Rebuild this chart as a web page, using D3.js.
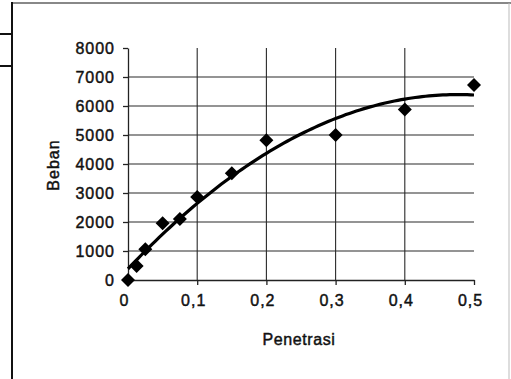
<!DOCTYPE html>
<html>
<head>
<meta charset="utf-8">
<script src="https://cdn.jsdelivr.net/npm/d3@7"></script>
<style>
  body { margin: 0; background: #fff; }
  svg { display: block; font-family: "Liberation Sans", Arial, sans-serif; }
  text { stroke: #111; stroke-width: 0.45px; }
  .axis text { font-size: 16px; fill: #111; letter-spacing: 1px; }
  .axis path, .axis line { stroke: #222; stroke-width: 1.3px; }
  .grid line { stroke: #2a2a2a; stroke-width: 1.1px; }
</style>
</head>
<body>
<svg id="chart" width="511" height="379"></svg>
<script>
var width = 511,
    height = 379;

var margin = {top: 48, right: 37, bottom: 99, left: 128};

// data
var penetrasi = [0, 0.0125, 0.025, 0.05, 0.075, 0.1, 0.15, 0.2, 0.3, 0.4, 0.5];
var beban = [0, 480, 1060, 1960, 2100, 2860, 3680, 4820, 5000, 5880, 6720];
var xTicks = [0, 0.1, 0.2, 0.3, 0.4, 0.5];
var yTicks = [0, 1000, 2000, 3000, 4000, 5000, 6000, 7000, 8000];

var svg = d3.select("#chart");

// scan frame
svg.append("line").attr("x1", 12).attr("x2", 511).attr("y1", 3).attr("y2", 3)
  .style("stroke", "#888").style("stroke-width", 2);
svg.append("line").attr("x1", 12).attr("x2", 12).attr("y1", 2).attr("y2", 379)
  .style("stroke", "#111").style("stroke-width", 2);
[34, 66].forEach(function(y) {
  svg.append("line").attr("x1", 0).attr("x2", 12).attr("y1", y).attr("y2", y)
    .style("stroke", "#111").style("stroke-width", 2);
});
svg.append("line").attr("x1", 509).attr("x2", 509).attr("y1", 3).attr("y2", 379)
  .style("stroke", "#bbb").style("stroke-width", 1);

var x = d3.scaleLinear().domain([0, 0.5]).range([margin.left, width - margin.right]);
var y = d3.scaleLinear().domain([0, 8000]).range([height - margin.bottom, margin.top]);

// gridlines
var grid = svg.append("g").attr("class", "grid");
grid.selectAll(".h")
  .data(yTicks.filter(function(d) { return d > 0 && d < 8000; }))
  .enter().append("line")
  .attr("x1", x(0)).attr("x2", x(0.5))
  .attr("y1", function(d) { return y(d); })
  .attr("y2", function(d) { return y(d); });
grid.selectAll(".v")
  .data(xTicks.filter(function(d) { return d > 0 && d < 0.5; }))
  .enter().append("line")
  .attr("y1", y(0)).attr("y2", y(8000))
  .attr("x1", function(d) { return x(d); })
  .attr("x2", function(d) { return x(d); });

// axes
svg.append("g").attr("class", "axis")
  .attr("transform", "translate(" + x(0) + ",0)")
  .call(d3.axisLeft(y).tickValues(yTicks).tickSize(5).tickSizeOuter(0).tickPadding(8)
    .tickFormat(function(d) { return d; }));

svg.append("g").attr("class", "axis")
  .attr("transform", "translate(0," + y(0) + ")")
  .call(d3.axisBottom(x).tickValues(xTicks).tickSize(5).tickSizeOuter(0).tickPadding(10)
    .tickFormat(function(d) { return String(d).replace(".", ","); }))
  .selectAll("text").attr("dx", -4);

svg.selectAll(".domain").style("stroke", "#222");

// polynomial (order 2) trendline, least squares fit of the points
function fitQuad(xs, ys) {
  var s = [0, 0, 0, 0, 0], t = [0, 0, 0];
  xs.forEach(function(xv, i) {
    for (var k = 0; k < 5; k++) s[k] += Math.pow(xv, k);
    for (var k = 0; k < 3; k++) t[k] += ys[i] * Math.pow(xv, k);
  });
  var m = [[s[0], s[1], s[2], t[0]], [s[1], s[2], s[3], t[1]], [s[2], s[3], s[4], t[2]]];
  for (var i = 0; i < 3; i++) {
    for (var j = i + 1; j < 3; j++) {
      var f = m[j][i] / m[i][i];
      for (var k = i; k < 4; k++) m[j][k] -= f * m[i][k];
    }
  }
  var c = [0, 0, 0];
  for (var i = 2; i >= 0; i--) {
    var v = m[i][3];
    for (var k = i + 1; k < 3; k++) v -= m[i][k] * c[k];
    c[i] = v / m[i][i];
  }
  return c;
}
var coef = fitQuad(penetrasi, beban);
var trend = d3.range(0, 0.5001, 0.005).map(function(d) {
  return [d, coef[0] + coef[1] * d + coef[2] * d * d];
});

svg.append("path")
  .datum(trend)
  .attr("fill", "none")
  .attr("stroke", "#000")
  .attr("stroke-width", 3.2)
  .attr("d", d3.line()
    .x(function(d) { return x(d[0]); })
    .y(function(d) { return y(d[1]); }));

// diamond markers
svg.selectAll(".pt")
  .data(penetrasi)
  .enter().append("path")
  .attr("class", "pt")
  .attr("transform", function(d, i) { return "translate(" + x(d) + "," + y(beban[i]) + ")"; })
  .attr("d", "M0,-7L7,0L0,7L-7,0Z")
  .attr("fill", "#000");

// axis titles
svg.append("text")
  .attr("x", (x(0) + x(0.5)) / 2 - 2)
  .attr("y", 345)
  .attr("text-anchor", "middle")
  .style("font-size", "16px")
  .style("letter-spacing", "0.6px")
  .style("fill", "#111")
  .text("Penetrasi");

svg.append("text")
  .attr("transform", "translate(59,165) rotate(-90)")
  .attr("text-anchor", "middle")
  .style("font-size", "16px")
  .style("letter-spacing", "1px")
  .style("fill", "#111")
  .text("Beban");
</script>
</body>
</html>
